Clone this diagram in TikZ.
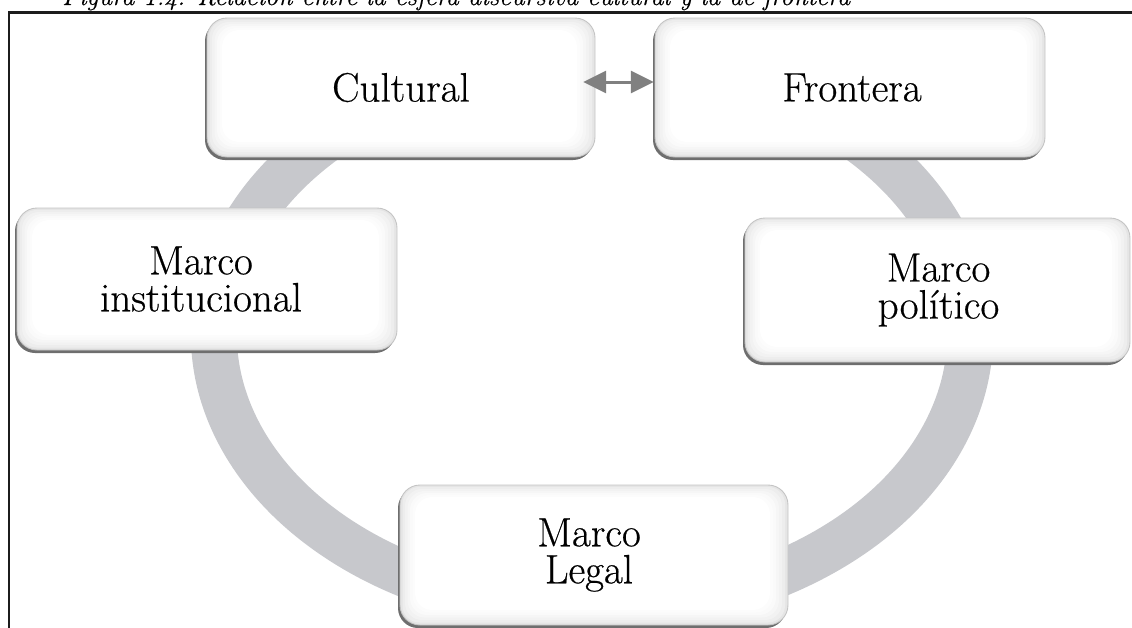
\documentclass[tikz,border=0pt]{standalone}
\usepackage{fontspec}
\usetikzlibrary{arrows.meta}

\newfontfamily\labelfont{Latin Modern Roman}[FakeBold=0.5]

\definecolor{ringgray}{RGB}{199,200,204}
\definecolor{framecol}{RGB}{28,28,28}
\definecolor{arrowgray}{RGB}{128,128,128}
\definecolor{edgegray}{RGB}{196,196,196}
\definecolor{shadowgray}{RGB}{110,110,110}

\tikzset{
  ringband/.style={draw=ringgray, line width=46},
  framestyle/.style={draw=framecol, line width=2.6},
  boxlabel/.style={inner sep=0, align=center, text=black,
    font=\labelfont\fontsize{41}{37}\selectfont},
  captionstyle/.style={inner sep=0, text=black,
    font=\labelfont\itshape\fontsize{26}{30}\selectfont},
  dblarrow/.style={draw=arrowgray, line width=3,
    {Triangle[length=23,width=22]}-{Triangle[length=23,width=22]}},
}

% bevelled rounded box: name, x1, y1, x2, y2, label, label shift
\newcommand{\bevelbox}[7]{%
  \fill[shadowgray, rounded corners=20] (#2-2,#3+3) rectangle (#4-2,#5+3);
  \filldraw[fill=black!10, draw=edgegray, line width=0.9, rounded corners=20]
    (#2,#3) rectangle (#4,#5);
  \foreach \k/\s in {1/7,2/5,3/3.5,4/2,5/1,6/0}{%
    \fill[black!\s, rounded corners=17]
      (#2+2.5*\k,#3+2*\k) rectangle (#4-3*\k,#5-2.5*\k);}
  \node[boxlabel, minimum width={#4-#2}, minimum height={#5-#3}]
    (#1) at ({(#2+#4)/2+#7},{(#3+#5)/2}) {#6};
}

\begin{document}
\begin{tikzpicture}[x=1pt, y=-1pt]
  \useasboundingbox (0,0) rectangle (1132,627);

  % caption line, cut by the top edge
  \node[captionstyle, anchor=base west] (cap) at (62,5)
    {Figura 1.4. Relación entre la esfera discursiva cultural y la de frontera};

  % frame
  \draw[framestyle] (9,660) -- (9,12.5) -- (1160,12.5);

  % open ring behind the boxes
  \draw[ringband] (592,335) ++(-70:378 and 275)
    arc[start angle=-70, end angle=250, x radius=378, y radius=275];

  % boxes
  \bevelbox{cult}{207}{18}{595}{157}{Cultural}{0}
  \bevelbox{front}{655}{18}{1045}{157}{Frontera}{2}
  \bevelbox{inst}{17}{208}{397}{350}{Marco\\institucional}{-6}
  \bevelbox{pol}{745}{218}{1130}{362}{Marco\\político}{1}
  \bevelbox{legal}{400}{485}{788}{625}{Marco\\Legal}{-5}

  % two-way link between the top boxes
  \draw[dblarrow, shorten <=-12, shorten >=3]
    ([yshift=5.5]cult.east) -- ([yshift=5.5]front.west);
\end{tikzpicture}
\end{document}
